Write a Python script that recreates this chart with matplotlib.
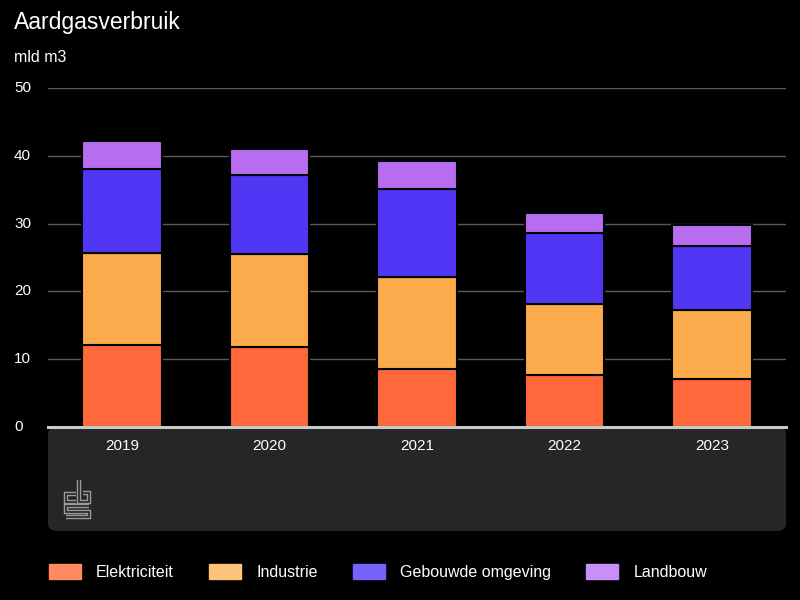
import matplotlib.pyplot as plt
import numpy as np
from matplotlib.patches import FancyBboxPatch
from matplotlib.lines import Line2D
import matplotlib.transforms as mtransforms

# data
jaren = ["2019", "2020", "2021", "2022", "2023"]
elektriciteit = [12.1, 11.8, 8.6, 7.7, 7.1]
industrie = [13.6, 13.7, 13.5, 10.4, 10.2]
gebouwde_omgeving = [12.4, 11.7, 13.0, 10.5, 9.4]
landbouw = [4.1, 3.8, 4.1, 3.0, 3.1]
series_namen = ["Elektriciteit", "Industrie", "Gebouwde omgeving", "Landbouw"]
yticks = [0, 10, 20, 30, 40, 50]

kleuren = ["#ff683b", "#fbab4b", "#5236f6", "#b86cf0"]
legenda_kleuren = ["#ff8a62", "#ffc27a", "#7262f8", "#c88ff8"]

plt.rcParams["font.family"] = ["Liberation Sans", "DejaVu Sans"]

fig = plt.figure(figsize=(8, 6), dpi=100, facecolor="black")
ax = fig.add_axes([0.06, 1 - 427 / 600, 0.9225, (427 - 88) / 600])
ax.set_facecolor("black")

# donker paneel onder de as
paneel = FancyBboxPatch((48 / 800, 1 - 531 / 600), 738 / 800, 104 / 600,
                        boxstyle="round,pad=0,rounding_size=0.012",
                        transform=fig.transFigure, facecolor="#262626",
                        edgecolor="none", zorder=-1)
fig.patches.append(paneel)

x = np.arange(len(jaren))
onder = np.zeros(len(jaren))
for waarden, naam, kleur in zip([elektriciteit, industrie, gebouwde_omgeving, landbouw],
                                series_namen, kleuren):
    ax.bar(x, waarden, 0.54, bottom=onder, color=kleur, edgecolor="black",
           linewidth=1.5, zorder=3, label=naam)
    onder += np.array(waarden)

ax.set_xlim(-0.5, len(jaren) - 0.5)
ax.set_ylim(0, 50)
ax.set_yticks(yticks[1:])
ax.yaxis.grid(True, color="#5a5a5a", linewidth=1)
ax.set_axisbelow(True)
ax.tick_params(axis="both", length=0, labelleft=False, labelbottom=False)
for s in ["top", "right", "left"]:
    ax.spines[s].set_visible(False)
ax.spines["bottom"].set_color("#c8ccc8")
ax.spines["bottom"].set_linewidth(2.2)
ax.spines["bottom"].set_zorder(4)

# y-labels links uitgelijnd
trans = mtransforms.blended_transform_factory(fig.transFigure, ax.transData)
for t in yticks:
    ax.text(14 / 800, t, str(t), transform=trans, color="white", fontsize=11,
            ha="left", va="center")

# jaartallen
trans_x = mtransforms.blended_transform_factory(ax.transData, fig.transFigure)
for i, j in zip(x, jaren):
    ax.text(i, 1 - 446 / 600, j, transform=trans_x, color="white", fontsize=11,
            ha="center", va="center", zorder=5)

fig.text(14 / 800, 1 - 22 / 600, "Aardgasverbruik", color="white", fontsize=16.5,
         ha="left", va="center")
fig.text(14 / 800, 1 - 58 / 600, "mld m3", color="white", fontsize=11.5,
         ha="left", va="center")

# cbs logo (vereenvoudigd, als omlijnde strepen)
lx, ly = 65, 480
logo = [
    [(11, 14), (1, 14), (1, 22), (11, 22)],
    [(14, 0), (14, 22), (24, 22), (24, 13), (18, 13)],
    [(24, 26), (1, 26), (1, 31.5), (24, 31.5), (24, 37), (1, 37)],
]
for pad in logo:
    xs = [(lx + p[0]) / 800 for p in pad]
    ys = [1 - (ly + p[1]) / 600 for p in pad]
    fig.lines.append(Line2D(xs, ys, transform=fig.transFigure, color="#9a9a9a",
                            linewidth=3.2, solid_joinstyle="miter", solid_capstyle="butt"))
    fig.lines.append(Line2D(xs, ys, transform=fig.transFigure, color="#262626",
                            linewidth=1.2, solid_joinstyle="miter", solid_capstyle="butt"))

# legenda
handles = [plt.Rectangle((0, 0), 1, 1, facecolor=c, edgecolor=c) for c in legenda_kleuren]
fig.legend(handles, series_namen, loc="center left", bbox_to_anchor=(49 / 800, 1 - 572 / 600),
           ncol=4, frameon=False, fontsize=11.5, labelcolor="white",
           handlelength=2.0, handleheight=1.1, handletextpad=0.95, columnspacing=2.2,
           borderaxespad=0, borderpad=0)

fig.savefig("out.png", dpi=100, facecolor="black")
